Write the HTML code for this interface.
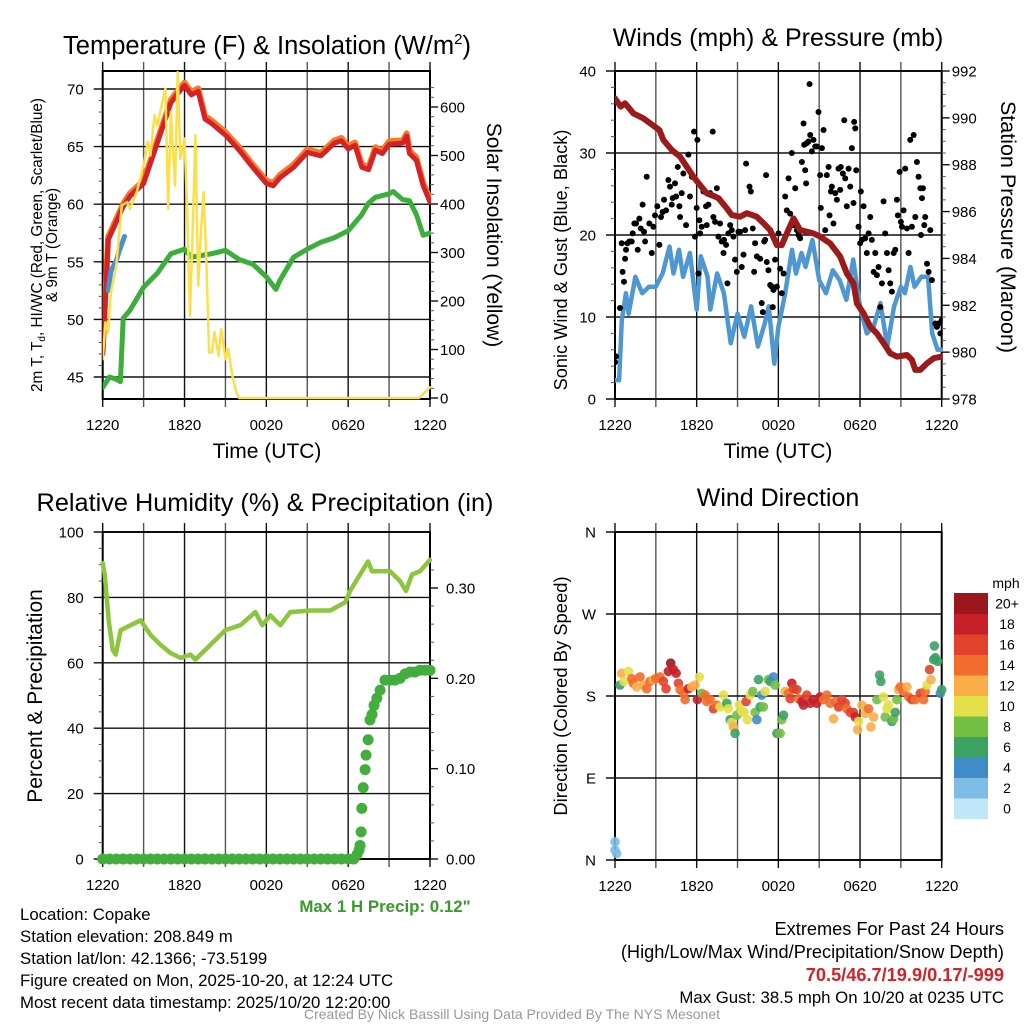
<!DOCTYPE html>
<html><head><meta charset="utf-8"><style>
body{margin:0;background:#fff}
svg{display:block;font-family:"Liberation Sans",Arial,sans-serif}
</style></head><body>
<svg id="s" width="1024" height="1024" viewBox="0 0 1024 1024" xmlns="http://www.w3.org/2000/svg">
<g id="texts" fill="#000">
<text x="267" y="54" font-size="25.5" text-anchor="middle">Temperature (F) &amp; Insolation (W/m<tspan font-size="15" dy="-10">2</tspan><tspan dy="10">)</tspan></text>
<text x="778" y="46" font-size="25" text-anchor="middle">Winds (mph) &amp; Pressure (mb)</text>
<text x="265" y="511" font-size="25.3" text-anchor="middle">Relative Humidity (%) &amp; Precipitation (in)</text>
<text x="778" y="506" font-size="25" text-anchor="middle">Wind Direction</text>
<text x="267" y="458" font-size="21" text-anchor="middle">Time (UTC)</text>
<text x="778" y="458" font-size="21" text-anchor="middle">Time (UTC)</text>
<text transform="translate(42,245) rotate(-90)" font-size="15.3" text-anchor="middle">2m T, T<tspan font-size="10" dy="3">d</tspan><tspan dy="-3">, HI/WC (Red, Green, Scarlet/Blue)</tspan></text>
<text transform="translate(57,245) rotate(-90)" font-size="15.3" text-anchor="middle">&amp; 9m T (Orange)</text>
<text transform="translate(487,235) rotate(90)" font-size="21" text-anchor="middle">Solar Insolation (Yellow)</text>
<text transform="translate(567,260) rotate(-90)" font-size="18.2" text-anchor="middle">Sonic Wind &amp; Gust (Blue, Black)</text>
<text transform="translate(1001,227) rotate(90)" font-size="21.5" text-anchor="middle">Station Pressure (Maroon)</text>
<text transform="translate(42,696) rotate(-90)" font-size="21" text-anchor="middle">Percent &amp; Precipitation</text>
<text transform="translate(567,696) rotate(-90)" font-size="18.4" text-anchor="middle">Direction (Colored By Speed)</text>
<text x="385" y="912" font-size="16.9" font-weight="bold" fill="#3a9a2a" text-anchor="middle">Max 1 H Precip: 0.12"</text>
<text x="1006" y="588" font-size="14" text-anchor="middle">mph</text>
<g font-size="16.8">
<text x="20" y="920">Location: Copake</text>
<text x="20" y="942">Station elevation: 208.849 m</text>
<text x="20" y="964">Station lat/lon: 42.1366; -73.5199</text>
<text x="20" y="986">Figure created on Mon, 2025-10-20, at 12:24 UTC</text>
<text x="20" y="1008">Most recent data timestamp: 2025/10/20 12:20:00</text>
</g>
<g font-size="18.2" text-anchor="end">
<text x="1004" y="935">Extremes For Past 24 Hours</text>
<text x="1004" y="958">(High/Low/Max Wind/Precipitation/Snow Depth)</text>
<text x="1004" y="981" font-weight="bold" fill="#d0242a">70.5/46.7/19.9/0.17/-999</text>
<text x="1004" y="1003" font-size="16.8">Max Gust: 38.5 mph On 10/20 at 0235 UTC</text>
</g>
<text x="512" y="1019" font-size="14" fill="#999" text-anchor="middle">Created By Nick Bassill Using Data Provided By The NYS Mesonet</text>
</g>
</svg>
<script>
// ---------- data ----------
const timeTickLabels = ["1220","1820","0020","0620","1220"];
const tempTicks = [45,50,55,60,65,70];
const solarTicks = [0,100,200,300,400,500,600];
const windTicks = [0,10,20,30,40];
const pressTicks = [978,980,982,984,986,988,990,992];
const rhTicks = [0,20,40,60,80,100];
const precipTicks = [0,0.1,0.2,0.3];
const precipTickLabels = ["0.00","0.10","0.20","0.30"];
const dirTickLabels = ["N","E","S","W","N"];
const dirTicks = [0,90,180,270,360];

const tempHours = [0,0.4,1.5,2,3,4,5,5.5,6,6.5,7,7.5,8,9,10,11,12,12.5,13,14,15,16,17,17.5,18,18.5,19,19.5,20,20.5,21,22,22.3,22.5,23,23.5,24];
const tempF = [47,56.9,59.8,60.7,61.8,65.3,68.8,69.6,70.3,69.5,69.8,67.4,67.0,66,64.7,63.2,61.8,61.6,62.3,63.2,64.5,64.2,65.3,65.5,64.8,65.1,63.2,63,64.7,64.4,65.2,65.3,65.9,64.4,63.8,61.6,60.2];
const dewHours = [0,0.5,1,1.3,1.5,2,3,4,5,6,6.5,7,8,9,10,11,12,12.7,13,14,15,16,17,18,19,19.5,20,21,21.3,22,22.5,23,23.5,24];
const dewF = [44.1,45,44.8,44.6,50.1,50.8,52.8,54,55.7,56.1,55.4,55.5,55.7,56,55.2,54.8,53.7,52.6,53.4,55.4,56.1,56.7,57.1,57.7,59.1,60.1,60.6,60.9,61.1,60.4,60.3,59.1,57.3,57.5];
const hiHours = [0.4,0.6,1,1.2,1.6];
const hiF = [52.5,54.2,55.1,55.9,57.2];
const solarHours = [0,0.2,0.4,0.6,1,1.4,1.8,2,2.5,3,3.3,3.5,3.8,4,4.3,4.6,4.8,5,5.3,5.5,5.7,6,6.2,6.4,6.6,6.8,7,7.2,7.4,7.6,7.8,8,8.2,8.5,8.7,9,9.2,9.5,9.8,10,23.2,24];
const solarW = [80,156,135,218,273,397,404,390,425,480,528,500,583,562,600,638,390,590,438,672,493,535,380,170,350,542,232,342,425,287,94,94,136,87,142,80,101,46,12,0,0,22];

const windHours = [0,0.3,0.5,0.8,1,1.5,2,2.5,3,3.5,4,4.3,4.7,5,5.5,6,6.3,6.8,7,7.5,8,8.5,9,9.5,10,10.5,11,11.3,11.7,12,12.5,13,13.3,13.7,14,14.5,15,15.5,16,16.5,17,17.5,18,18.5,19,19.5,20,20.5,21,21.3,21.7,22,22.5,23,23.3,23.7,24];
const windMph = [2.3,2.3,9.6,12.9,10.4,14.9,12.9,13.7,13.7,15.3,18.6,15.3,18.2,14.9,17.8,10.9,17.4,14.9,10.9,15.3,12.9,6.8,10.4,7.6,11.3,6.4,9.2,11.3,4.3,8.8,12.9,18.2,15.3,17.8,16.1,19.4,14.5,12.9,15.7,14.5,12.1,17.0,11.3,8.0,8.8,11.7,6.4,11.3,13.7,12.9,16.1,13.7,14.9,14.9,8.0,6.0,6.0];
const gustHours = [0,0.07,0.37,0.49,0.56,0.66,0.74,0.81,0.91,1.05,1.23,1.30,1.42,1.54,1.67,1.79,1.89,2.03,2.13,2.21,2.33,2.52,2.70,2.82,2.94,3.11,3.26,3.38,3.50,3.60,3.75,3.92,4.04,4.17,4.24,4.41,4.49,4.61,4.73,4.78,4.90,5.02,5.22,5.39,5.51,5.64,5.81,5.88,6.0,6.05,6.13,6.2,6.25,6.37,6.5,6.69,6.74,6.86,6.99,7.18,7.23,7.35,7.48,7.6,7.72,7.84,7.97,8.01,8.16,8.26,8.33,8.46,8.58,8.7,8.82,8.95,9.07,9.19,9.31,9.44,9.56,9.63,9.88,9.98,10.12,10.22,10.29,10.42,10.66,10.78,10.86,10.96,11.03,11.1,11.15,11.27,11.4,11.52,11.59,11.64,11.76,11.89,12.01,12.13,12.25,12.38,12.5,12.62,12.75,12.87,12.99,13.11,13.24,13.36,13.48,13.6,13.73,13.85,13.9,13.97,14.04,14.09,14.22,14.29,14.34,14.46,14.58,14.71,14.83,14.95,15.07,15.12,15.2,15.32,15.44,15.56,15.69,15.76,15.86,15.93,16.05,16.18,16.3,16.42,16.54,16.59,16.74,16.84,16.91,17.03,17.16,17.28,17.4,17.52,17.57,17.65,17.72,17.89,18.01,18.06,18.14,18.26,18.38,18.5,18.63,18.75,18.87,19.0,19.12,19.24,19.36,19.49,19.61,19.73,19.85,19.98,20.1,20.22,20.34,20.47,20.59,20.71,20.78,20.91,21.0,21.08,21.2,21.32,21.45,21.57,21.69,21.81,21.94,22.06,22.18,22.3,22.43,22.48,22.55,22.62,22.72,22.79,22.92,23.04,23.16,23.28,23.53,23.65,23.77,23.9,24.0];
const gustMph = [4.5,5.2,11.1,19.0,15.5,14.3,17.1,18.2,19.0,19.2,19.2,20.2,21.4,21.4,18.2,22.0,20.8,23.7,20.4,19.2,27.1,21.4,17.8,21.0,22.4,23.5,18.8,22.2,22.8,24.3,23.0,26.7,25.9,23.7,24.5,26.3,24.7,28.3,23.5,22.2,25.1,27.5,21.2,29.8,24.7,27.1,32.6,19.8,23.3,31.6,15.3,21.8,20.2,21.0,25.3,23.5,21.2,23.7,25.1,32.6,22.2,21.6,25.7,19.8,21.4,19.2,17.8,19.4,18.8,14.1,20.2,21.2,20.6,19.8,17.0,15.5,20.4,20.4,16.1,17.6,20.6,28.7,25.9,25.3,20.8,15.5,19.0,17.4,17.1,11.7,10.6,19.2,19.4,27.3,16.7,15.7,13.9,13.7,11.2,13.3,17.0,13.7,20.2,15.9,12.9,15.3,24.7,23.0,26.9,22.6,30.0,21.2,25.7,20.6,20.0,19.6,28.9,33.6,31.0,27.9,26.3,31.2,31.4,38.4,32.2,30.2,31.6,30.8,30.8,35.0,27.3,23.3,30.6,32.8,20.6,27.3,28.3,22.4,25.3,25.9,21.4,25.1,24.3,28.1,25.5,28.3,27.5,34.0,26.9,23.5,28.1,25.9,30.6,23.9,33.8,33.0,27.9,21.0,19.0,25.3,19.4,23.5,19.6,17.8,20.2,22.2,19.4,15.5,17.8,15.1,16.1,11.2,14.1,24.1,20.2,17.8,15.7,14.1,13.1,17.8,18.2,24.3,22.4,27.7,21.6,21.0,23.0,28.1,20.8,17.8,31.6,21.0,32.2,22.2,28.9,27.1,25.7,20.0,24.5,25.7,21.2,22.2,16.5,15.5,20.6,14.5,9.2,8.8,9.2,8.0,9.6];
const pressHours = [0,0.42,0.74,1.35,2.08,2.57,3.26,3.55,4.17,4.78,5.27,5.76,6.25,6.74,7.35,7.6,8.21,8.58,9.19,9.68,10.42,10.91,11.4,11.89,12.25,12.62,13.11,13.6,14.09,14.58,15.07,15.81,16.54,17.03,17.52,17.77,18.26,18.75,19.24,19.73,20.22,20.71,21.45,21.81,22.06,22.43,22.92,23.41,24.0];
const pressMb = [990.83,990.48,990.62,990.19,989.98,989.77,989.48,989.06,988.63,988.34,987.92,987.49,987.13,986.78,986.64,986.57,986.14,985.85,985.78,985.93,985.78,985.5,985.21,984.57,984.57,985.07,985.71,985.21,985.14,985.07,984.93,984.64,984.08,983.36,982.94,982.08,981.66,981.09,980.8,980.38,979.95,979.81,979.88,979.67,979.24,979.24,979.52,979.74,979.81];

const rhHours = [0,0.15,0.44,0.73,0.95,1.32,2.05,2.78,3.51,4.24,4.97,5.71,6.44,6.8,7.53,8.27,9.0,10.1,11.19,11.7,12.29,13.02,13.75,15.22,16.68,17.78,18.14,18.87,19.46,19.75,20.34,21.07,21.8,22.24,22.68,23.27,24];
const rhPct = [90.5,87,73,64,62.5,70,71.5,73,68.5,65.5,63,61.5,62.5,61,64,67,70,71.5,75.5,71.5,74.5,71.5,75.5,76,76,78.5,82,87,91,88,88,88,85,82,87,88,91.5];
const precipHours = [0,0.5,1,1.5,2,2.5,3,3.5,4,4.5,5,5.5,6,6.5,7,7.5,8,8.5,9,9.5,10,10.5,11,11.5,12,12.5,13,13.5,14,14.5,15,15.5,16,16.5,17,17.5,18,18.4,18.65,18.8,18.87,18.95,19.0,19.1,19.24,19.31,19.46,19.6,19.75,19.9,20.1,20.34,20.7,21.07,21.43,21.8,22.17,22.53,22.9,23.27,23.63,24];
const precipIn = [0,0,0,0,0,0,0,0,0,0,0,0,0,0,0,0,0,0,0,0,0,0,0,0,0,0,0,0,0,0,0,0,0,0,0,0,0,0,0.005,0.01,0.015,0.03,0.056,0.079,0.099,0.115,0.132,0.154,0.16,0.17,0.178,0.187,0.198,0.198,0.198,0.2,0.205,0.207,0.207,0.209,0.209,0.209];

const dirHours = [0,0.12,0,0.37,0.49,0.66,0.98,1.23,1.35,1.59,1.84,2.08,2.33,2.57,2.82,3.01,3.31,3.55,3.75,3.92,4.09,4.29,4.49,4.66,4.78,5.02,5.15,5.39,5.64,5.88,6.05,6.2,6.37,6.62,6.74,6.99,7.23,7.48,7.72,7.97,8.21,8.33,8.46,8.58,8.7,8.82,8.95,9.14,9.31,9.49,9.63,9.73,9.93,10.12,10.29,10.42,10.54,10.66,10.78,10.91,11.03,11.27,11.4,11.64,11.76,11.89,12.13,12.25,12.38,12.5,12.75,12.87,12.99,13.11,13.36,13.48,13.73,13.85,14.09,14.34,14.58,14.83,15.07,15.32,15.56,15.81,16.05,16.18,16.42,16.67,16.91,17.03,17.28,17.52,17.65,17.82,17.89,18.14,18.38,18.63,18.8,19.0,19.24,19.44,19.53,19.73,19.85,19.98,20.1,20.34,20.47,20.59,20.71,20.83,20.96,21.2,21.45,21.57,21.81,22.06,22.43,22.67,22.79,22.92,23.11,23.21,23.41,23.53,23.46,23.7,23.9,24.0];
const dirDeg = [11,7,20,192,205,196,207,199,194,190,201,192,188,196,198,199,201,196,188,207,216,209,205,194,187,183,176,188,190,192,176,201,183,181,174,176,166,170,168,181,172,166,154,151,146,139,159,170,163,162,174,154,181,185,162,154,198,168,181,168,185,198,196,201,192,139,139,154,159,185,183,177,194,188,187,177,174,170,181,172,176,172,179,176,181,172,155,174,168,176,172,166,162,162,157,143,152,170,161,166,146,157,176,203,196,179,157,166,170,152,155,162,176,187,190,185,190,179,176,176,183,176,185,192,209,198,220,222,235,218,183,187];
const dirSpd = [2,2,2,6,12,10,10,14,14,12,14,12,14,14,12,14,14,16,16,18,20,18,18,16,14,14,14,18,12,12,18,10,8,14,14,14,16,14,10,10,6,10,6,10,12,6,8,10,10,10,16,10,10,8,8,4,6,6,4,8,10,8,6,4,8,6,8,8,6,12,14,16,18,16,16,14,18,18,16,18,18,18,18,14,14,14,12,14,16,16,16,14,16,16,18,12,10,12,12,14,12,12,8,6,6,10,8,10,10,6,8,6,8,12,14,14,12,14,16,14,16,14,14,10,16,12,6,6,6,6,4,6];
const speedColors = ["#bfe7f8","#7dbde6","#3f8cc8","#3ba264","#72bf44","#e3e04b","#f9ae48","#f26d2b","#e1422c","#c61f29","#9a181c"];
const speedLabels = ["0","2","4","6","8","10","12","14","16","18","20+"];

// ---------- helpers ----------
const NS = "http://www.w3.org/2000/svg";
const svg = document.getElementById('s');
function mk(tag, attrs, parent){const e=document.createElementNS(NS,tag);for(const k in attrs)e.setAttribute(k,attrs[k]);(parent||svg).appendChild(e);return e;}
function scale(d0,d1,r0,r1){return v=>r0+(v-d0)/(d1-d0)*(r1-r0);}
function pathFrom(xs,ys,sx,sy){return xs.map((h,i)=>(i?'L':'M')+sx(h).toFixed(1)+','+sy(ys[i]).toFixed(1)).join('');}
function clipFor(P,id){const c=mk('clipPath',{id:id});mk('rect',{x:P.x0,y:P.y0-4,width:P.x1-P.x0+1,height:P.y1-P.y0+6},c);const g=mk('g',{'clip-path':'url(#'+id+')'});return g;}

function frame(P,name){
  const g=mk('g',{});
  
  
  for(let h=0;h<=24;h+=3){
    const x=P.sx(h);
    const l=mk('line',{x1:x,x2:x,y1:P.y0-9,y2:P.y1+8,stroke:(h%6==0?'#111':'#555'),'stroke-width':1.4},g);
    
    
  }
  timeTickLabels.forEach((t,i)=>{
    const tx=mk('text',{x:P.sx(i*6),y:P.y1+31,'font-size':15,'text-anchor':'middle'},g);
    tx.textContent=t;
    
    
  });
  mk('rect',{x:P.x0,y:P.y0,width:P.x1-P.x0,height:P.y1-P.y0,fill:'none',stroke:'#000','stroke-width':2},g);
  return g;
}
function leftAxis(P,ticks,labels,sy,minor,name){
  const g=mk('g',{});
  
  
  ticks.forEach((v,i)=>{
    const y=sy(v);
    mk('line',{x1:P.x0-9,x2:P.x1,y1:y,y2:y,stroke:'#111','stroke-width':1.4},g);
    const t=mk('text',{x:P.x0-19,y:y+5.5,'font-size':15,'text-anchor':'end'},g);
    t.textContent=labels[i];
    
    
  });
  if(minor) minor.forEach(v=>{const y=sy(v);mk('line',{x1:P.x0-4,x2:P.x0,y1:y,y2:y,stroke:'#555','stroke-width':1},g);});
}
function rightAxis(P,ticks,labels,sy,minor,name,off){
  const g=mk('g',{});
  
  
  ticks.forEach((v,i)=>{
    const y=sy(v);
    mk('line',{x1:P.x1,x2:P.x1+8,y1:y,y2:y,stroke:'#111','stroke-width':1.4},g);
    const t=mk('text',{x:P.x1+(off||8),y:y+5.5,'font-size':15,'text-anchor':'start'},g);
    t.textContent=labels[i];
    
    
  });
  if(minor) minor.forEach(v=>{const y=sy(v);mk('line',{x1:P.x1,x2:P.x1+4,y1:y,y2:y,stroke:'#555','stroke-width':1},g);});
}
function line(xs,ys,sx,sy,color,w,name,parent){
  const p=mk('path',{d:pathFrom(xs,ys,sx,sy),fill:'none',stroke:color,'stroke-width':w,'stroke-linejoin':'round','stroke-linecap':'round'},parent);
  
  
  return p;
}

// ---------- Panel 1: temperature ----------
const P1={x0:102.7,x1:430,y0:71,y1:399};
P1.sx=scale(0,24,P1.x0,P1.x1);
const tY=scale(45,70,377,89);
const sY=scale(0,600,398,107);
frame(P1,'temperature');
leftAxis(P1,tempTicks,tempTicks.map(String),tY,[46,47,48,49,51,52,53,54,56,57,58,59,61,62,63,64,66,67,68,69],'temp-left-axis');
rightAxis(P1,solarTicks,solarTicks.map(String),sY,[20,40,60,80,120,140,160,180,220,240,260,280,320,340,360,380,420,440,460,480,520,540,560,580,620,640],'solar-right-axis',10);
const g1=clipFor(P1,'c1');
line(tempHours,tempF.map(v=>v+0.25),P1.sx,tY,'#f47b2a',6,'nine-meter-temp-line',g1);
line(tempHours,tempF,P1.sx,tY,'#d52227',5,'two-meter-temp-line',g1);
line(dewHours,dewF,P1.sx,tY,'#3cae3c',5,'dewpoint-line',g1);
line(hiHours,hiF,P1.sx,tY,'#4a90cc',5,'heat-index-line',g1);
line(solarHours,solarW,P1.sx,sY,'#fbe04d',2.5,'solar-insolation-line',g1);

// ---------- Panel 2: wind/pressure ----------
const P2={x0:615,x1:941.7,y0:71,y1:399};
P2.sx=scale(0,24,P2.x0,P2.x1);
const wY=scale(0,40,399,71);
const pY=scale(978,992,399,71);
frame(P2,'wind');
leftAxis(P2,windTicks,windTicks.map(String),wY,[2,4,6,8,12,14,16,18,22,24,26,28,32,34,36,38],'wind-left-axis');
rightAxis(P2,pressTicks,pressTicks.map(String),pY,[978.5,979,979.5,980.5,981,981.5,982.5,983,983.5,984.5,985,985.5,986.5,987,987.5,988.5,989,989.5,990.5,991,991.5],'pressure-right-axis',10);
const g2=clipFor(P2,'c2');
line(windHours,windMph,P2.sx,wY,'#4f97d1',4.5,'sonic-wind-line',g2);
const gg=mk('g',{},g2);


gustHours.forEach((h,i)=>{
  const c=mk('circle',{cx:P2.sx(h),cy:wY(gustMph[i]),r:3,fill:'#000'},gg);
  
  
});
line(pressHours,pressMb,P2.sx,pY,'#9b1a1a',6,'pressure-line',g2);

// ---------- Panel 3: RH/precip ----------
const P3={x0:102.7,x1:430,y0:532,y1:859};
P3.sx=scale(0,24,P3.x0,P3.x1);
const rY=scale(0,100,859,532);
const prY=scale(0,0.3,859,588);
frame(P3,'humidity');
leftAxis(P3,rhTicks,rhTicks.map(String),rY,[5,10,15,25,30,35,45,50,55,65,70,75,85,90,95],'rh-left-axis');
rightAxis(P3,precipTicks,precipTickLabels,prY,[0.02,0.04,0.06,0.08,0.12,0.14,0.16,0.18,0.22,0.24,0.26,0.28,0.32],'precip-right-axis',16);
line(rhHours,rhPct,P3.sx,rY,'#8cc63f',4.5,'relative-humidity-line');
const pg=mk('g',{});


precipHours.forEach((h,i)=>{
  const c=mk('circle',{cx:P3.sx(h),cy:prY(precipIn[i]),r:5.5,fill:'#43ad3d'},pg);
  
  
});

// ---------- Panel 4: wind direction ----------
const P4={x0:615,x1:941.7,y0:532,y1:860};
P4.sx=scale(0,24,P4.x0,P4.x1);
const dY=scale(0,360,860,532);
frame(P4,'direction');
leftAxis(P4,dirTicks,dirTickLabels,dY,null,'direction-left-axis');
const dg=mk('g',{});


dirHours.forEach((h,i)=>{
  const idx=Math.min(10,Math.floor(dirSpd[i]/2));
  const c=mk('circle',{cx:P4.sx(h),cy:dY(dirDeg[i]),r:4.8,fill:speedColors[idx],'fill-opacity':0.9},dg);
  
  
});
const cb=mk('g',{});


const cbTop=593, cbH=20.5;
speedColors.forEach((col,i)=>{
  const y=cbTop+(10-i)*cbH;
  const r=mk('rect',{x:954,y:y,width:34,height:cbH+0.5,fill:col},cb);
  
  
  const t=mk('text',{x:1007,y:y+cbH/2+5,'font-size':14,'text-anchor':'middle'},cb);
  t.textContent=speedLabels[i];
  
  
});
svg.appendChild(document.getElementById('texts'));
</script>
</body></html>
